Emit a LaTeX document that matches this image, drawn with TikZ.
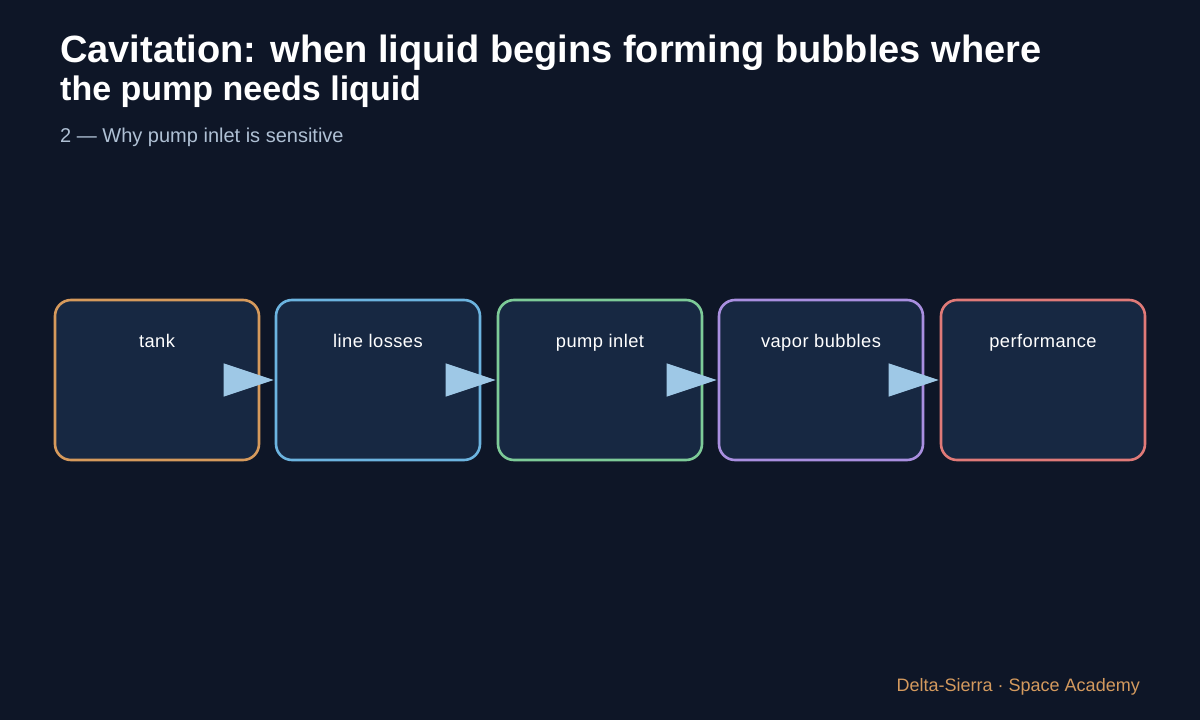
\documentclass[tikz,border=0pt]{standalone}
\usepackage{fontspec}
\setmainfont{Liberation Sans}
\usetikzlibrary{arrows.meta}
\definecolor{bg}{HTML}{0E1627}
\definecolor{boxfill}{HTML}{172842}
\definecolor{cA}{HTML}{D69A5C}
\definecolor{cB}{HTML}{6CB4E0}
\definecolor{cC}{HTML}{7DCB98}
\definecolor{cD}{HTML}{A98FE0}
\definecolor{cE}{HTML}{E07A78}
\definecolor{arrowc}{HTML}{9EC8E6}
\definecolor{subc}{HTML}{AFC0D4}
\definecolor{footc}{HTML}{D49A5E}
\begin{document}
\begin{tikzpicture}[x=1pt,y=-1pt,
  stagebox/.style={draw=#1, line width=2.6pt, fill=boxfill, rounded corners=16pt,
    minimum width=204pt, minimum height=160pt, inner sep=0pt},
  stagelabel/.style={text=white, font=\fontsize{18.3}{20}\selectfont\addfontfeatures{LetterSpace=2.5}, anchor=base, inner sep=0pt},
  flow/.style={arrowc, line width=1pt, -{Triangle[length=50pt,width=33pt]}, shorten >=1pt}]
\useasboundingbox[fill=bg] (0,0) rectangle (1200,720);
\node[anchor=base west, text=white, font=\bfseries\fontsize{38}{40}\selectfont, inner sep=0pt] (t1) at (60,62) {Cavitation: when liquid begins forming bubbles where};
\node[anchor=base west, text=white, font=\bfseries\fontsize{34}{36}\selectfont, inner sep=0pt] (t2) at (60,100) {the pump needs liquid};
\node[anchor=base west, text=subc, font=\fontsize{20}{22}\selectfont, inner sep=0pt] (sub) at (60,142) {2 — Why pump inlet is sensitive};
\node[stagebox=cA] (b1) at (157,380) {};
\node[stagebox=cB] (b2) at (378,380) {};
\node[stagebox=cC] (b3) at (600,380) {};
\node[stagebox=cD] (b4) at (821,380) {};
\node[stagebox=cE] (b5) at (1043,380) {};
\node[stagelabel] (l1) at ([yshift=-48.5]b1.north) {tank};
\node[stagelabel] (l2) at ([yshift=-48.5]b2.north) {line losses};
\node[stagelabel] (l3) at ([yshift=-48.5]b3.north) {pump inlet};
\node[stagelabel] (l4) at ([yshift=-48.5]b4.north) {vapor bubbles};
\node[stagelabel] (l5) at ([yshift=-48.5]b5.north) {performance};
\draw[flow] (b1.east) -- (b2.west);
\draw[flow] (b2.east) -- (b3.west);
\draw[flow] (b3.east) -- (b4.west);
\draw[flow] (b4.east) -- (b5.west);
\node[anchor=base east, text=footc, font=\fontsize{18}{20}\selectfont, inner sep=0pt] (foot) at (1140,691) {Delta-Sierra · Space Academy};
\end{tikzpicture}
\end{document}
